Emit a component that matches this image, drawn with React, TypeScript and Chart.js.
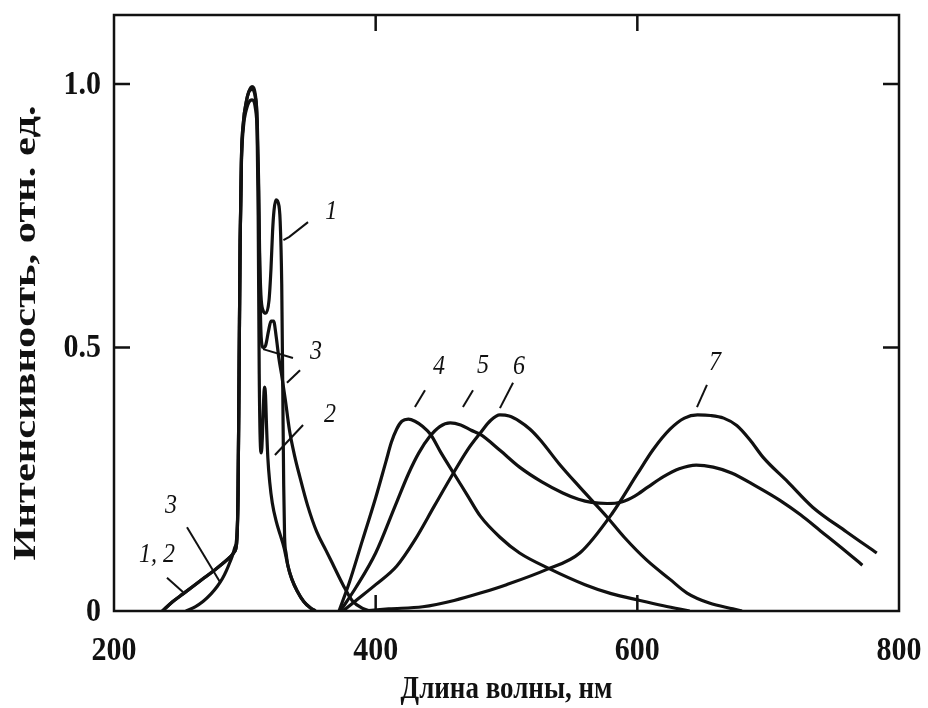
import React, { useEffect, useRef } from "react";
import { Chart, registerables } from "chart.js";

Chart.register(...registerables);

// Axis setup
const X_TICKS = [200, 400, 600, 800];
const X_TICK_LABELS = ["200", "400", "600", "800"];
const Y_TICKS = [0, 0.5, 1.0];
const Y_TICK_LABELS = ["0", "0.5", "1.0"];
const X_TITLE = "Длина волны, нм";
const Y_TITLE = "Интенсивность, отн. ед.";

// Spectrum 1
const C1_NM = [237, 245, 253, 261, 269, 277, 284, 289, 292, 293.8, 294.8, 295.6, 296.4, 297.4, 299, 301, 303, 305.5, 308, 309.5, 310.5, 311.3, 312.3, 314, 316, 318.5, 320, 321.2, 322.3, 323.8, 325.5, 327, 328.2, 329, 329.7, 330.4, 331.5, 333, 336, 340, 345, 350, 354];
const C1_I = [0, 0.018, 0.033, 0.048, 0.063, 0.078, 0.092, 0.103, 0.112, 0.13, 0.22, 0.45, 0.7, 0.86, 0.93, 0.965, 0.985, 0.995, 0.98, 0.93, 0.82, 0.68, 0.6, 0.57, 0.565, 0.59, 0.65, 0.72, 0.76, 0.78, 0.775, 0.74, 0.62, 0.42, 0.24, 0.14, 0.11, 0.085, 0.06, 0.038, 0.018, 0.006, 0];

// Spectrum 2
const C2_NM = [237, 245, 253, 261, 269, 277, 284, 289, 292, 293.8, 294.8, 295.6, 296.4, 297.4, 299, 301, 303, 305.5, 308, 309.3, 310.2, 311, 311.8, 312.6, 313.4, 314.2, 315, 315.8, 316.6, 317.6, 319, 321, 324, 327, 330, 333, 336, 340, 345, 350, 354];
const C2_I = [0, 0.018, 0.033, 0.048, 0.063, 0.078, 0.092, 0.103, 0.112, 0.13, 0.22, 0.45, 0.7, 0.86, 0.93, 0.965, 0.985, 0.99, 0.975, 0.93, 0.75, 0.45, 0.32, 0.3, 0.33, 0.39, 0.425, 0.41, 0.35, 0.29, 0.245, 0.205, 0.17, 0.145, 0.12, 0.085, 0.06, 0.038, 0.018, 0.006, 0];

// Spectrum 3
const C3_NM = [255, 262, 268, 274, 279, 283, 286, 288.5, 290.5, 292.3, 293.8, 294.8, 295.6, 296.4, 297.4, 299, 301, 303, 305.5, 308, 309.5, 310.5, 311.5, 312.5, 314, 316, 318, 320, 322, 324, 326, 328, 331, 334, 338, 342, 348, 355, 362, 368, 375, 382, 390, 396];
const C3_I = [0, 0.008, 0.018, 0.032, 0.047, 0.062, 0.077, 0.092, 0.105, 0.12, 0.14, 0.22, 0.45, 0.7, 0.85, 0.92, 0.95, 0.965, 0.97, 0.955, 0.91, 0.8, 0.62, 0.52, 0.5, 0.505, 0.53, 0.55, 0.55, 0.52, 0.48, 0.45, 0.4, 0.345, 0.295, 0.255, 0.2, 0.15, 0.115, 0.085, 0.05, 0.02, 0.005, 0];

// Spectrum 4
const C4_NM = [372, 380, 390, 400, 408, 412, 416, 420, 425, 430, 436, 442, 450, 460, 470, 480, 495, 510, 533, 560, 580, 602, 620, 640];
const C4_I = [0, 0.055, 0.135, 0.215, 0.285, 0.32, 0.345, 0.36, 0.364, 0.36, 0.35, 0.335, 0.3, 0.26, 0.22, 0.18, 0.14, 0.11, 0.08, 0.05, 0.033, 0.02, 0.01, 0];

// Spectrum 5
const C5_NM = [373, 385, 400, 415, 425, 433, 441, 449, 457, 465, 473, 480, 495, 510, 527, 543, 555, 565, 577, 588, 598, 608, 620, 632, 645, 658, 672, 690, 709, 725, 740, 756, 772];
const C5_I = [0, 0.045, 0.11, 0.2, 0.26, 0.3, 0.33, 0.35, 0.357, 0.353, 0.343, 0.335, 0.305, 0.273, 0.245, 0.224, 0.212, 0.206, 0.204, 0.207, 0.218, 0.235, 0.255, 0.27, 0.277, 0.273, 0.262, 0.238, 0.21, 0.182, 0.152, 0.12, 0.087];

// Spectrum 6
const C6_NM = [375, 385, 400, 416, 430, 445, 459, 470, 480, 488, 495, 502, 510, 518, 526, 540, 556, 577, 590, 607, 625, 638, 655, 673, 680];
const C6_I = [0, 0.02, 0.05, 0.085, 0.135, 0.2, 0.26, 0.305, 0.338, 0.362, 0.372, 0.37, 0.36, 0.345, 0.324, 0.28, 0.235, 0.178, 0.14, 0.097, 0.06, 0.034, 0.015, 0.004, 0];

// Spectrum 7
const C7_NM = [390, 410, 436, 460, 480, 500, 530, 556, 581, 600, 612, 625, 636, 646, 656, 666, 676, 686, 696, 715, 734, 760, 783];
const C7_I = [0, 0.004, 0.008, 0.02, 0.034, 0.05, 0.078, 0.11, 0.186, 0.26, 0.306, 0.345, 0.366, 0.372, 0.371, 0.366, 0.352, 0.325, 0.292, 0.245, 0.197, 0.15, 0.11];

const SERIES = [
  { name: "1", nm: C1_NM, i: C1_I },
  { name: "2", nm: C2_NM, i: C2_I },
  { name: "3", nm: C3_NM, i: C3_I },
  { name: "4", nm: C4_NM, i: C4_I },
  { name: "5", nm: C5_NM, i: C5_I },
  { name: "6", nm: C6_NM, i: C6_I },
  { name: "7", nm: C7_NM, i: C7_I },
];

// Curve labels with their leader lines, placed in data coordinates
const NOTES: { text: string; at: [number, number]; lines: [number, number][][] }[] = [
  { text: "1", at: [366, 0.757], lines: [[[329.5, 0.704], [334, 0.71], [348.3, 0.738]]] },
  { text: "3", at: [354.4, 0.491], lines: [[[313.9, 0.497], [336.8, 0.48]], [[332.2, 0.433], [342.2, 0.457]]] },
  { text: "2", at: [365.1, 0.372], lines: [[[323, 0.296], [344.5, 0.353]]] },
  { text: "4", at: [448.4, 0.463], lines: [[[430, 0.387], [437.7, 0.419]]] },
  { text: "5", at: [482, 0.465], lines: [[[466.7, 0.387], [474.4, 0.419]]] },
  { text: "6", at: [509.5, 0.463], lines: [[[495, 0.385], [505, 0.433]]] },
  { text: "7", at: [659.3, 0.47], lines: [[[645.6, 0.387], [653.2, 0.429]]] },
  { text: "1, 2", at: [232.9, 0.106], lines: [[[240.5, 0.063], [252.7, 0.036]]] },
  { text: "3", at: [243.6, 0.199], lines: [[[255.8, 0.159], [281, 0.055]]] },
];

const INK = "#111111";
const SERIF = "'Liberation Serif', 'DejaVu Serif', serif";

// text drawn with an optional vertical stretch
function stretchedText(ctx: CanvasRenderingContext2D, text: string, x: number, y: number, sy: number) {
  ctx.save();
  ctx.translate(x, y);
  ctx.scale(1, sy);
  ctx.fillText(text, 0, 0);
  ctx.restore();
}

const framePlugin = {
  id: "frameAndNotes",
  afterDatasetsDraw(chart: any) {
    const { ctx, chartArea: a, scales } = chart;
    const xs = scales.x;
    const ys = scales.y;
    ctx.save();

    // frame
    ctx.strokeStyle = INK;
    ctx.lineWidth = 2.5;
    ctx.strokeRect(a.left, a.top, a.right - a.left, a.bottom - a.top);

    // inward ticks on all four sides
    const tl = 16;
    ctx.beginPath();
    X_TICKS.forEach((v) => {
      const px = xs.getPixelForValue(v);
      if (px <= a.left + 1 || px >= a.right - 1) return;
      ctx.moveTo(px, a.top);
      ctx.lineTo(px, a.top + tl);
      ctx.moveTo(px, a.bottom);
      ctx.lineTo(px, a.bottom - tl);
    });
    Y_TICKS.forEach((v) => {
      const py = ys.getPixelForValue(v);
      if (py >= a.bottom - 1) return;
      ctx.moveTo(a.left, py);
      ctx.lineTo(a.left + tl, py);
      ctx.moveTo(a.right, py);
      ctx.lineTo(a.right - tl, py);
    });
    ctx.stroke();

    // tick labels
    ctx.fillStyle = INK;
    ctx.font = `bold 30px ${SERIF}`;
    ctx.textBaseline = "middle";
    ctx.textAlign = "center";
    X_TICKS.forEach((v, k) => {
      stretchedText(ctx, X_TICK_LABELS[k], xs.getPixelForValue(v), a.bottom + 40, 1.1);
    });
    ctx.textAlign = "right";
    Y_TICKS.forEach((v, k) => {
      stretchedText(ctx, Y_TICK_LABELS[k], a.left - 13, ys.getPixelForValue(v) + 1, 1.1);
    });

    // curve labels and leader lines
    ctx.lineWidth = 2;
    ctx.font = `italic 24px ${SERIF}`;
    ctx.textAlign = "center";
    ctx.textBaseline = "middle";
    NOTES.forEach((n) => {
      n.lines.forEach((pts) => {
        ctx.beginPath();
        pts.forEach(([x, y], k) => {
          const px = xs.getPixelForValue(x);
          const py = ys.getPixelForValue(y);
          if (k === 0) ctx.moveTo(px, py);
          else ctx.lineTo(px, py);
        });
        ctx.stroke();
      });
      stretchedText(ctx, n.text, xs.getPixelForValue(n.at[0]), ys.getPixelForValue(n.at[1]), 1.1);
    });

    // axis titles
    ctx.font = `bold 27px ${SERIF}`;
    ctx.textAlign = "center";
    stretchedText(ctx, X_TITLE, (a.left + a.right) / 2, 690, 1.2);

    ctx.font = `bold 31px ${SERIF}`;
    const len = ctx.measureText(Y_TITLE).width;
    ctx.translate(27, 333);
    ctx.rotate(-Math.PI / 2);
    ctx.scale(455 / len, 1);
    ctx.fillText(Y_TITLE, 0, 0);
    ctx.restore();
  },
};

export default function App() {
  const ref = useRef<HTMLCanvasElement | null>(null);

  useEffect(() => {
    if (!ref.current) return;
    const chart = new Chart(ref.current, {
      type: "line",
      data: {
        datasets: SERIES.map((s) => ({
          label: s.name,
          data: s.nm.map((x, k) => ({ x, y: s.i[k] })),
          borderColor: INK,
          borderWidth: 3.2,
          pointRadius: 0,
          fill: false,
          cubicInterpolationMode: "monotone" as const,
        })),
      },
      options: {
        animation: false,
        responsive: false,
        devicePixelRatio: 1,
        layout: { padding: { top: 15, right: 29, left: 0, bottom: 0 } },
        plugins: {
          legend: { display: false },
          tooltip: { enabled: false },
        },
        scales: {
          x: {
            type: "linear",
            min: 200,
            max: 800,
            grid: { display: false, drawTicks: false },
            border: { display: false },
            afterBuildTicks: (scale: any) => {
              scale.ticks = X_TICKS.map((value) => ({ value }));
            },
            afterFit: (scale: any) => {
              scale.height = 97;
              scale.paddingLeft = 0;
              scale.paddingRight = 0;
            },
            ticks: { display: false },
          },
          y: {
            type: "linear",
            min: 0,
            max: 1.131,
            grid: { display: false, drawTicks: false },
            border: { display: false },
            afterBuildTicks: (scale: any) => {
              scale.ticks = Y_TICKS.map((value) => ({ value }));
            },
            afterFit: (scale: any) => {
              scale.width = 114;
              scale.paddingTop = 0;
              scale.paddingBottom = 0;
            },
            ticks: { display: false },
          },
        },
      },
      plugins: [framePlugin],
    });
    return () => chart.destroy();
  }, []);

  return (
    <div style={{ position: "fixed", left: 0, top: 0, width: 928, height: 708, background: "#fff" }}>
      <canvas ref={ref} width={928} height={708} />
    </div>
  );
}
